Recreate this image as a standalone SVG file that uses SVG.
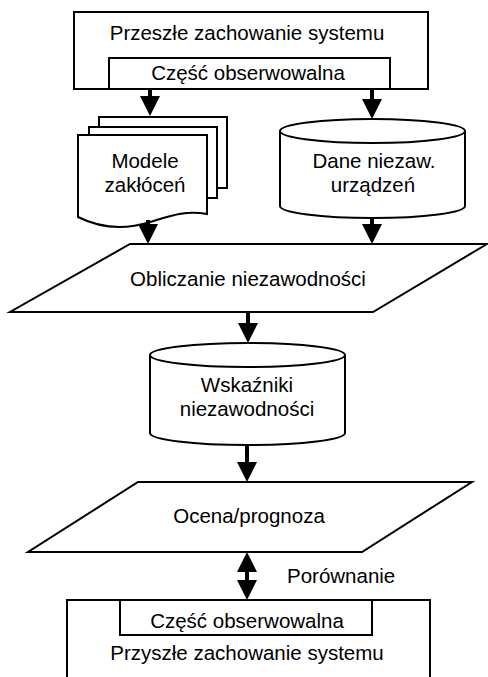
<svg xmlns="http://www.w3.org/2000/svg" width="488" height="677" viewBox="0 0 488 677">
<defs>
<style>
.s{fill:#fff;stroke:#000;stroke-width:2}
.t{font-family:"Liberation Sans",Arial,sans-serif;font-size:20.5px;fill:#000;text-anchor:middle}
.c{stroke:#000;stroke-width:4;fill:none}
.h{fill:#000;stroke:none}
</style>
</defs>
<rect width="488" height="677" fill="#fff"/>
<g id="past">
<rect class="s" x="74" y="12" width="354" height="77"/>
<text class="t" x="247" y="40">Przeszłe zachowanie systemu</text>
<rect class="s" x="109" y="58" width="281" height="31"/>
<text class="t" x="248" y="80">Część obserwowalna</text>
</g>
<g id="models">
<path class="s" d="M99,127 V117 H227 V188 H217"/>
<path class="s" d="M89,135 V127 H217 V198 H207"/>
<path class="s" d="M78,135 H207 V214 C185,210 170,216 150,222 C125,230 100,228 78,217 Z"/>
<text class="t" x="145" y="168">Modele</text>
<text class="t" x="145" y="192">zakłóceń</text>
</g>
<g id="data">
<path class="s" d="M280,131 V206 A92.5,12 0 0 0 465,206 V131"/>
<ellipse class="s" cx="372.5" cy="131" rx="92.5" ry="12"/>
<text class="t" x="374" y="168">Dane niezaw.</text>
<text class="t" x="373" y="192">urządzeń</text>
</g>
<g id="calc">
<polygon class="s" points="130,244 487,244 373,312 10,312"/>
<text class="t" x="248" y="286">Obliczanie niezawodności</text>
</g>
<g id="indicators">
<path class="s" d="M150,355 V433 A97.5,12 0 0 0 345,433 V355"/>
<ellipse class="s" cx="247.5" cy="355" rx="97.5" ry="12"/>
<text class="t" x="247" y="392">Wskaźniki</text>
<text class="t" x="247" y="416">niezawodności</text>
</g>
<g id="forecast">
<polygon class="s" points="138,482 472,482 362,552 28,552"/>
<text class="t" x="249" y="523">Ocena/prognoza</text>
</g>
<g id="future">
<rect class="s" x="67" y="600" width="363" height="100"/>
<rect class="s" x="120" y="600" width="252" height="35"/>
<text class="t" x="247" y="628">Część obserwowalna</text>
<text class="t" x="247" y="660">Przyszłe zachowanie systemu</text>
</g>
<g id="connectors">
<line class="c" x1="150" y1="89" x2="150" y2="97"/>
<polygon class="h" points="140,96 160,96 150,116"/>
<line class="c" x1="372" y1="89" x2="372" y2="100"/>
<polygon class="h" points="362,99 382,99 372,119"/>
<line class="c" x1="148" y1="220" x2="148" y2="226"/>
<polygon class="h" points="138,224 158,224 148,244"/>
<line class="c" x1="372" y1="217" x2="372" y2="226"/>
<polygon class="h" points="362,224 382,224 372,244"/>
<line class="c" x1="248" y1="312" x2="248" y2="325"/>
<polygon class="h" points="238,323 258,323 248,343"/>
<line class="c" x1="247" y1="445" x2="247" y2="464"/>
<polygon class="h" points="237,462 257,462 247,482"/>
<line class="c" x1="247" y1="570" x2="247" y2="582"/>
<polygon class="h" points="237,572 257,572 247,552"/>
<polygon class="h" points="237,580 257,580 247,600"/>
<text class="t" x="287" y="583" style="text-anchor:start">Porównanie</text>
</g>
</svg>
